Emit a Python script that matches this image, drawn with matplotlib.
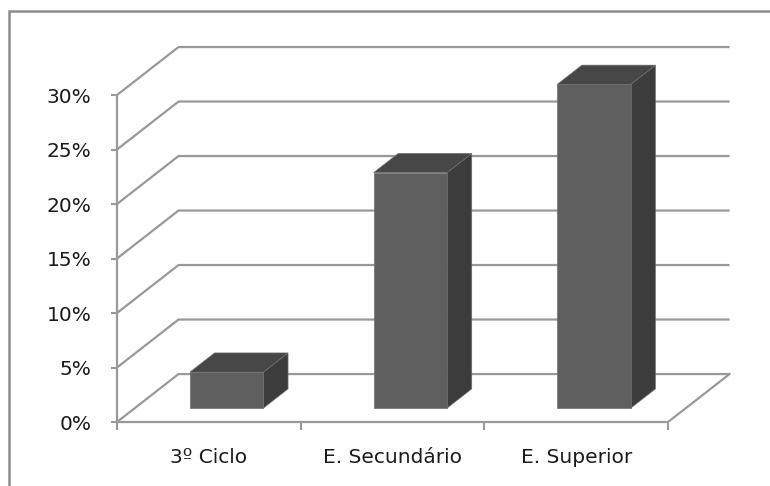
import matplotlib.pyplot as plt
from matplotlib.patches import Polygon, Rectangle
from matplotlib.ticker import FuncFormatter

categories = ['3º Ciclo', 'E. Secundário', 'E. Superior']
values = [3.3, 21.6, 29.7]
y_ticks = [0, 5, 10, 15, 20, 25, 30]

# fake 3d look: offset of the back wall (x in categories, y in %)
DX, DY = 0.335, 4.4
BAR_W = 0.40
BAR_FRONT, BAR_BACK = 0.29, 0.69  # part of the depth the bars take

GRID = '#999999'
FRONT, TOP, SIDE = '#5f5f5f', '#474747', '#3c3c3c'

plt.rcParams['font.family'] = 'DejaVu Sans'

fig = plt.figure(figsize=(7.7, 4.86), dpi=100)
ax = fig.add_axes([117 / 770, 64 / 486, 624.5 / 770, 392.4 / 486])
ax.set_xlim(0, 3.4)
ax.set_ylim(0, 36)

# walls: left side diagonals + back lines, floor edge on the right
for y in y_ticks:
    ax.plot([0, DX, len(categories) + DX], [y, y + DY, y + DY],
            color=GRID, lw=1.6, zorder=1, solid_capstyle='butt')
ax.plot([len(categories), len(categories) + DX], [0, DY], color=GRID, lw=1.6, zorder=1)

# bars
ddx = (BAR_BACK - BAR_FRONT) * DX
ddy = (BAR_BACK - BAR_FRONT) * DY
for i, v in enumerate(values):
    x0 = i + (1 - BAR_W) / 2 + BAR_FRONT * DX
    y0 = BAR_FRONT * DY
    x1, y1 = x0 + BAR_W, y0 + v
    front = [(x0, y0), (x1, y0), (x1, y1), (x0, y1)]
    top = [(x0, y1), (x1, y1), (x1 + ddx, y1 + ddy), (x0 + ddx, y1 + ddy)]
    side = [(x1, y0), (x1 + ddx, y0 + ddy), (x1 + ddx, y1 + ddy), (x1, y1)]
    for pts, c in [(side, SIDE), (top, TOP), (front, FRONT)]:
        ax.add_patch(Polygon(pts, closed=True, fc=c, ec='#6e6e6e', lw=0.5, zorder=3))

# axes
for s in ['top', 'right']:
    ax.spines[s].set_visible(False)
ax.spines['left'].set_bounds(0, 30)
ax.spines['bottom'].set_bounds(0, len(categories))
for s in ['left', 'bottom']:
    ax.spines[s].set_color(GRID)
    ax.spines[s].set_linewidth(1.6)

ax.set_yticks(y_ticks)
ax.yaxis.set_major_formatter(FuncFormatter(lambda v, p: f'{int(v)}%'))
ax.set_xticks(range(len(categories) + 1))
ax.set_xticklabels([])
ax.set_xticks([i + 0.5 for i in range(len(categories))], minor=True)
ax.set_xticklabels(categories, minor=True)
ax.tick_params(axis='y', length=4.5, width=1.5, color=GRID, pad=14,
               labelsize=14.5, labelcolor='#1a1a1a')
ax.tick_params(axis='x', which='major', length=6, width=1.5, color=GRID)
ax.tick_params(axis='x', which='minor', length=0, pad=19,
               labelsize=14.5, labelcolor='#1a1a1a')

# chart area border (only left/top visible in the crop)
fig.add_artist(Rectangle((9 / 770, -0.1), 1.2, 0.1 + (486 - 11) / 486,
                         transform=fig.transFigure, fill=False,
                         ec='#8c8c8c', lw=1.8))

fig.savefig('out.png', dpi=100)
